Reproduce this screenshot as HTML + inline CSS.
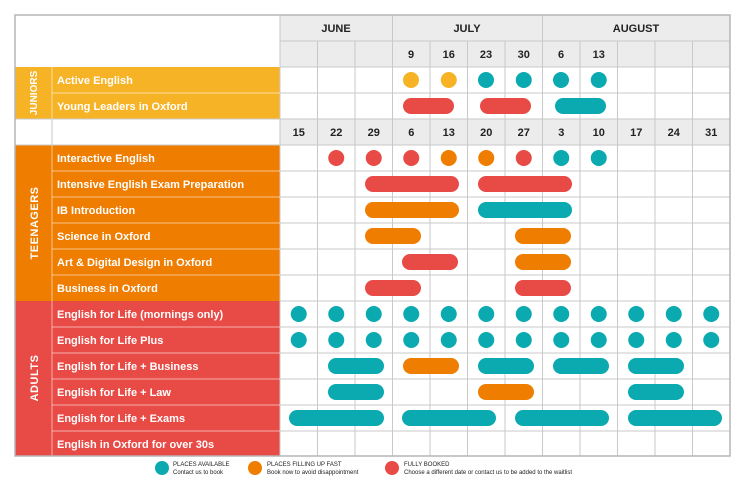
<!DOCTYPE html>
<html><head><meta charset="utf-8"><style>
html,body{margin:0;padding:0;background:#fff}
svg{display:block}
text{font-family:"Liberation Sans",sans-serif}
</style></head><body>
<svg width="746" height="482" viewBox="0 0 746 482" xmlns="http://www.w3.org/2000/svg">
<rect x="280" y="15" width="450" height="52" fill="#ececec"/>
<rect x="280" y="119" width="450" height="26" fill="#ececec"/>
<rect x="15" y="67" width="265" height="52" fill="#f7b326"/>
<rect x="15" y="145" width="265" height="156" fill="#ef7d00"/>
<rect x="15" y="301" width="265" height="155" fill="#e84a45"/>
<g stroke="#c9c9c9" stroke-width="1" fill="none">
<line x1="280" y1="41" x2="730" y2="41"/>
<line x1="280" y1="67" x2="730" y2="67"/>
<line x1="280" y1="93" x2="730" y2="93"/>
<line x1="15" y1="119" x2="730" y2="119"/>
<line x1="15" y1="145" x2="730" y2="145"/>
<line x1="280" y1="171" x2="730" y2="171"/>
<line x1="280" y1="197" x2="730" y2="197"/>
<line x1="280" y1="223" x2="730" y2="223"/>
<line x1="280" y1="249" x2="730" y2="249"/>
<line x1="280" y1="275" x2="730" y2="275"/>
<line x1="280" y1="301" x2="730" y2="301"/>
<line x1="280" y1="327" x2="730" y2="327"/>
<line x1="280" y1="353" x2="730" y2="353"/>
<line x1="280" y1="379" x2="730" y2="379"/>
<line x1="280" y1="405" x2="730" y2="405"/>
<line x1="280" y1="431" x2="730" y2="431"/>
<line x1="52" y1="119" x2="52" y2="145"/>
<line x1="280" y1="15" x2="280" y2="456"/>
<line x1="317.5" y1="41" x2="317.5" y2="456"/>
<line x1="355" y1="41" x2="355" y2="456"/>
<line x1="392.5" y1="15" x2="392.5" y2="456"/>
<line x1="430" y1="41" x2="430" y2="456"/>
<line x1="467.5" y1="41" x2="467.5" y2="456"/>
<line x1="505" y1="41" x2="505" y2="456"/>
<line x1="542.5" y1="15" x2="542.5" y2="456"/>
<line x1="580" y1="41" x2="580" y2="456"/>
<line x1="617.5" y1="41" x2="617.5" y2="456"/>
<line x1="655" y1="41" x2="655" y2="456"/>
<line x1="692.5" y1="41" x2="692.5" y2="456"/>
</g>
<g stroke="rgba(255,255,255,0.55)" stroke-width="1">
<line x1="52" y1="93" x2="280" y2="93"/>
<line x1="52" y1="171" x2="280" y2="171"/>
<line x1="52" y1="197" x2="280" y2="197"/>
<line x1="52" y1="223" x2="280" y2="223"/>
<line x1="52" y1="249" x2="280" y2="249"/>
<line x1="52" y1="275" x2="280" y2="275"/>
<line x1="52" y1="327" x2="280" y2="327"/>
<line x1="52" y1="353" x2="280" y2="353"/>
<line x1="52" y1="379" x2="280" y2="379"/>
<line x1="52" y1="405" x2="280" y2="405"/>
<line x1="52" y1="431" x2="280" y2="431"/>
<line x1="52" y1="67" x2="52" y2="119"/>
<line x1="52" y1="145" x2="52" y2="456"/>
</g>
<rect x="15" y="15" width="715" height="441" stroke="#b5b5b5" stroke-width="1.5" fill="none"/>
<g font-size="11" font-weight="bold" fill="#222" text-anchor="middle">
<text x="336" y="32">JUNE</text>
<text x="467" y="32">JULY</text>
<text x="636" y="32">AUGUST</text>
<text x="411" y="58">9</text><text x="448.75" y="58">16</text><text x="486" y="58">23</text><text x="523.75" y="58">30</text><text x="561" y="58">6</text><text x="598.75" y="58">13</text>
<text x="298.75" y="136">15</text><text x="336.25" y="136">22</text><text x="373.75" y="136">29</text><text x="411.25" y="136">6</text><text x="448.75" y="136">13</text><text x="486.25" y="136">20</text><text x="523.75" y="136">27</text><text x="561.25" y="136">3</text><text x="598.75" y="136">10</text><text x="636.25" y="136">17</text><text x="673.75" y="136">24</text><text x="711.25" y="136">31</text>
</g>
<g font-weight="bold" fill="#fff" text-anchor="middle">
<text transform="translate(37,93) rotate(-90)" font-size="10">JUNIORS</text>
<text transform="translate(38,223) rotate(-90)" font-size="11" letter-spacing="0.5">TEENAGERS</text>
<text transform="translate(38,378) rotate(-90)" font-size="11" letter-spacing="0.5">ADULTS</text>
</g>
<g font-size="11" font-weight="bold" fill="#fff">
<text x="57" y="84">Active English</text>
<text x="57" y="110">Young Leaders in Oxford</text>
<text x="57" y="162">Interactive English</text>
<text x="57" y="188">Intensive English Exam Preparation</text>
<text x="57" y="214">IB Introduction</text>
<text x="57" y="240">Science in Oxford</text>
<text x="57" y="266">Art &amp; Digital Design in Oxford</text>
<text x="57" y="292">Business in Oxford</text>
<text x="57" y="318">English for Life (mornings only)</text>
<text x="57" y="344">English for Life Plus</text>
<text x="57" y="370">English for Life + Business</text>
<text x="57" y="396">English for Life + Law</text>
<text x="57" y="422">English for Life + Exams</text>
<text x="57" y="448">English in Oxford for over 30s</text>
</g>
<circle cx="411" cy="80" r="8" fill="#f7b326"/><circle cx="448.75" cy="80" r="8" fill="#f7b326"/>
<circle cx="486" cy="80" r="8" fill="#0aaab0"/><circle cx="523.75" cy="80" r="8" fill="#0aaab0"/>
<circle cx="561" cy="80" r="8" fill="#0aaab0"/><circle cx="598.75" cy="80" r="8" fill="#0aaab0"/>
<rect x="403" y="98" width="51" height="16" rx="8" fill="#e84a45"/>
<rect x="480" y="98" width="51" height="16" rx="8" fill="#e84a45"/>
<rect x="555" y="98" width="51" height="16" rx="8" fill="#0aaab0"/>
<circle cx="336.25" cy="158" r="8" fill="#e84a45"/><circle cx="373.75" cy="158" r="8" fill="#e84a45"/>
<circle cx="411.25" cy="158" r="8" fill="#e84a45"/><circle cx="448.75" cy="158" r="8" fill="#ef7d00"/>
<circle cx="486.25" cy="158" r="8" fill="#ef7d00"/><circle cx="523.75" cy="158" r="8" fill="#e84a45"/>
<circle cx="561.25" cy="158" r="8" fill="#0aaab0"/><circle cx="598.75" cy="158" r="8" fill="#0aaab0"/>
<rect x="365" y="176" width="94" height="16" rx="8" fill="#e84a45"/>
<rect x="478" y="176" width="94" height="16" rx="8" fill="#e84a45"/>
<rect x="365" y="202" width="94" height="16" rx="8" fill="#ef7d00"/>
<rect x="478" y="202" width="94" height="16" rx="8" fill="#0aaab0"/>
<rect x="365" y="228" width="56" height="16" rx="8" fill="#ef7d00"/>
<rect x="515" y="228" width="56" height="16" rx="8" fill="#ef7d00"/>
<rect x="402" y="254" width="56" height="16" rx="8" fill="#e84a45"/>
<rect x="515" y="254" width="56" height="16" rx="8" fill="#ef7d00"/>
<rect x="365" y="280" width="56" height="16" rx="8" fill="#e84a45"/>
<rect x="515" y="280" width="56" height="16" rx="8" fill="#e84a45"/>
<g fill="#0aaab0">
<circle cx="298.75" cy="314" r="8"/><circle cx="336.25" cy="314" r="8"/><circle cx="373.75" cy="314" r="8"/><circle cx="411.25" cy="314" r="8"/><circle cx="448.75" cy="314" r="8"/><circle cx="486.25" cy="314" r="8"/><circle cx="523.75" cy="314" r="8"/><circle cx="561.25" cy="314" r="8"/><circle cx="598.75" cy="314" r="8"/><circle cx="636.25" cy="314" r="8"/><circle cx="673.75" cy="314" r="8"/><circle cx="711.25" cy="314" r="8"/>
<circle cx="298.75" cy="340" r="8"/><circle cx="336.25" cy="340" r="8"/><circle cx="373.75" cy="340" r="8"/><circle cx="411.25" cy="340" r="8"/><circle cx="448.75" cy="340" r="8"/><circle cx="486.25" cy="340" r="8"/><circle cx="523.75" cy="340" r="8"/><circle cx="561.25" cy="340" r="8"/><circle cx="598.75" cy="340" r="8"/><circle cx="636.25" cy="340" r="8"/><circle cx="673.75" cy="340" r="8"/><circle cx="711.25" cy="340" r="8"/>
<rect x="328" y="358" width="56" height="16" rx="8"/>
<rect x="478" y="358" width="56" height="16" rx="8"/>
<rect x="553" y="358" width="56" height="16" rx="8"/>
<rect x="628" y="358" width="56" height="16" rx="8"/>
<rect x="328" y="384" width="56" height="16" rx="8"/>
<rect x="628" y="384" width="56" height="16" rx="8"/>
<rect x="289" y="410" width="95" height="16" rx="8"/>
<rect x="402" y="410" width="94" height="16" rx="8"/>
<rect x="515" y="410" width="94" height="16" rx="8"/>
<rect x="628" y="410" width="94" height="16" rx="8"/>
</g>
<rect x="403" y="358" width="56" height="16" rx="8" fill="#ef7d00"/>
<rect x="478" y="384" width="56" height="16" rx="8" fill="#ef7d00"/>
<circle cx="162" cy="468" r="7" fill="#0aaab0"/>
<circle cx="255" cy="468" r="7" fill="#ef7d00"/>
<circle cx="392" cy="468" r="7" fill="#e84a45"/>
<g font-size="6" fill="#222">
<text x="173" y="466">PLACES AVAILABLE</text>
<text x="173" y="474">Contact us to book</text>
<text x="267" y="466">PLACES FILLING UP FAST</text>
<text x="267" y="474">Book now to avoid disappointment</text>
<text x="404" y="466">FULLY BOOKED</text>
<text x="404" y="474">Choose a different date or contact us to be added to the waitlist</text>
</g>
</svg>
</body></html>
